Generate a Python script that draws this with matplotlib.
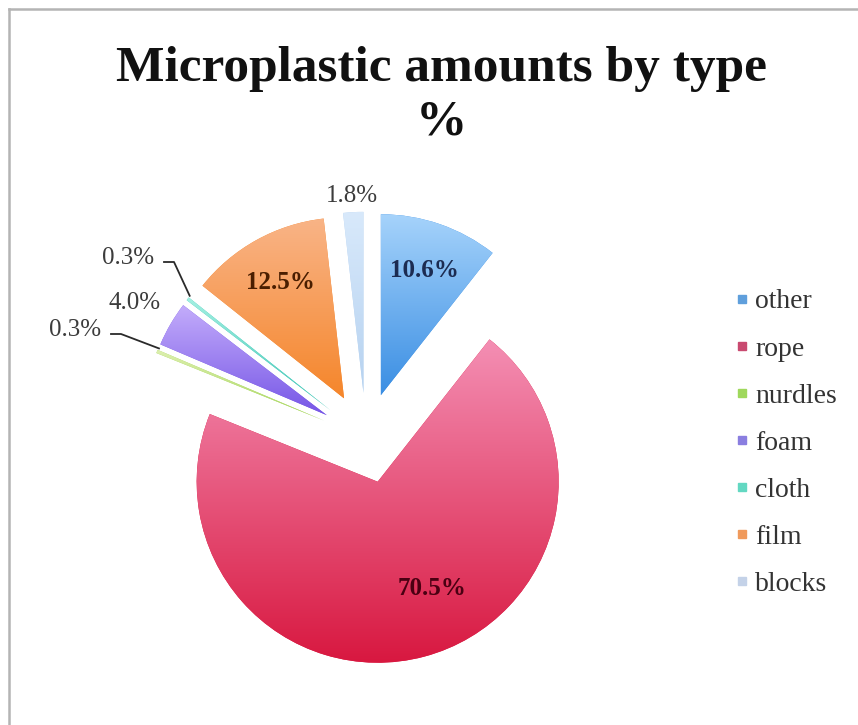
import matplotlib.pyplot as plt
import numpy as np
from matplotlib.colors import to_rgb
from matplotlib.lines import Line2D

categories = ["other", "rope", "nurdles", "foam", "cloth", "film", "blocks"]
values = [10.6, 70.5, 0.3, 4.0, 0.3, 12.5, 1.8]

# gradient colours (top, bottom) for each slice, and legend swatch colours
top_colors = ["#a6d3fb", "#f48fb4", "#dcefae", "#c4adfb", "#a4f0e2", "#f9b487", "#d8e9fb"]
bot_colors = ["#3a8ee3", "#d8173f", "#a6d65a", "#7656e6", "#3fc6b6", "#f5862b", "#b6d2f0"]
key_colors = ["#5f9fdc", "#c94a70", "#9fd85c", "#8a7ee0", "#63d8c2", "#f09a5c", "#c4d2e8"]

fig = plt.figure(figsize=(8.58, 7.25), dpi=100)
ax = fig.add_axes([0, 0, 1, 1])

R = 181
wedges, _ = ax.pie(values, startangle=90, counterclock=False,
                   explode=[0.25 * R] * len(values), radius=R, center=(366, 287),
                   colors=bot_colors, wedgeprops=dict(linewidth=0),
                   frame=True)

# vertical gradient fill inside every wedge
for w, c1, c2 in zip(wedges, top_colors, bot_colors):
    v = w.get_path().vertices
    y0, y1 = v[:, 1].min(), v[:, 1].max()
    x0, x1 = v[:, 0].min(), v[:, 0].max()
    t = np.linspace(0, 1, 256)[:, None, None]
    grad = np.array(to_rgb(c2))[None, None, :] * (1 - t) + np.array(to_rgb(c1))[None, None, :] * t
    im = ax.imshow(grad, extent=[x0, x1, y0, y1], origin="lower",
                   aspect="auto", zorder=w.get_zorder() + 0.1)
    im.set_clip_path(w)
ax.set_xlim(0, 858)
ax.set_ylim(0, 725)
ax.set_aspect("equal")
ax.axis("off")


def wedge_point(w, frac, ang_off=0.0):
    ang = np.deg2rad((w.theta1 + w.theta2) / 2 + ang_off)
    cx, cy = w.center
    return cx + frac * w.r * np.cos(ang), cy + frac * w.r * np.sin(ang)


labels = ["%.1f%%" % v for v in values]
lab_font = dict(family="Liberation Serif", fontsize=18)

# labels inside the large slices
inside = {0: (0.73, 0, "#1c2c52"), 5: (0.73, 0, "#4a1e00"), 1: (0.66, 12, "#4a0012")}
for i, (frac, off, col) in inside.items():
    x, y = wedge_point(wedges[i], frac, off)
    ax.text(x, y, labels[i], ha="center", va="center", color=col,
            fontweight="bold", zorder=10, **lab_font)

# labels outside the small slices
x, y = wedge_point(wedges[6], 1.09)
ax.text(x, y, labels[6], ha="center", va="center", color="#3c3c3c", zorder=10, **lab_font)
x, y = wedge_point(wedges[3], 1.23)
ax.text(x, y, labels[3], ha="center", va="center", color="#3c3c3c", zorder=10, **lab_font)

for i, (tx, ty) in [(4, (128, 467)), (2, (75, 395))]:
    ax.text(tx, ty, labels[i], ha="center", va="center", color="#3c3c3c", zorder=10, **lab_font)
    px, py = wedge_point(wedges[i], 1.0)
    ax.plot([tx + 36, tx + 46, px + 2], [ty - 4, ty - 4, py + 3],
            color="#2a2a2a", lw=1.3, zorder=10)

handles = [Line2D([], [], marker="s", linestyle="none", markersize=6,
                  markerfacecolor=c, markeredgecolor=c) for c in key_colors]
leg = fig.legend(handles, categories, loc="center left",
                 bbox_to_anchor=(736 / 858, 1 - 443 / 725), frameon=False,
                 prop=dict(family="Liberation Serif", size=20),
                 labelspacing=0.78, handlelength=0.4, handletextpad=0.3,
                 borderpad=0, borderaxespad=0)
for t in leg.get_texts():
    t.set_color("#333333")

fig.text(441 / 858, 1 - 96 / 725, "Microplastic amounts by type\n%",
         ha="center", va="center", fontsize=37, fontweight="bold",
         family="Liberation Serif", linespacing=1.2, color="#111111")

# chart border (left and top edges visible)
fig.add_artist(Line2D([9 / 858, 9 / 858], [0, 1 - 9 / 725], color="#b4b4b4", lw=1.8))
fig.add_artist(Line2D([9 / 858, 1], [1 - 9 / 725, 1 - 9 / 725], color="#b4b4b4", lw=1.8))

fig.savefig("out.png", dpi=100, facecolor="white")
